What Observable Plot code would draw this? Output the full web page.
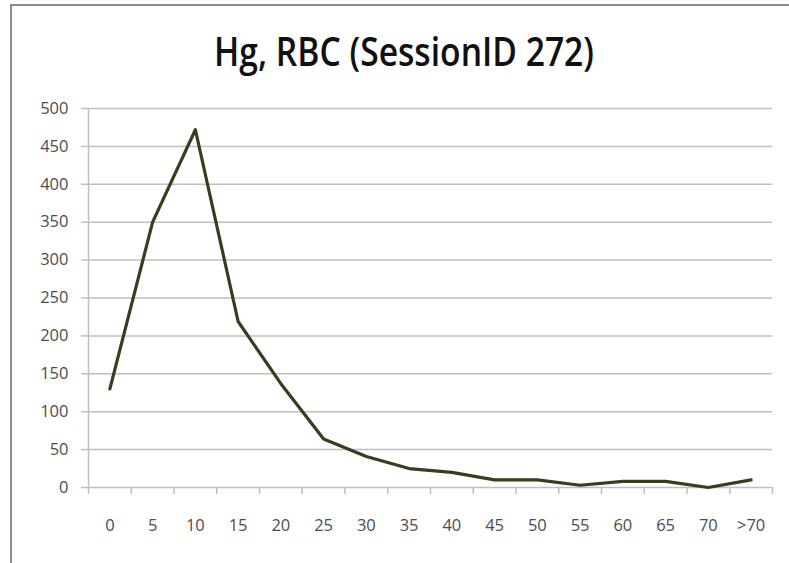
<!DOCTYPE html>
<html>
<head>
<meta charset="utf-8">
<script src="https://cdn.jsdelivr.net/npm/d3@7"></script>
<script src="https://cdn.jsdelivr.net/npm/@observablehq/plot@0.6"></script>
<style>
  html, body { margin: 0; padding: 0; background: #fff; }
  #frame { position: absolute; left: 10px; top: 4px; width: 779px; height: 559px;
           border-top: 2px solid #8c8c8c; border-left: 2px solid #8c8c8c; box-sizing: border-box; }
  #titlewrap { position: absolute; left: 0; top: 31px; width: 808px; text-align: center; line-height: 1; }
  #title { display: inline-block; font-family: "Open Sans", sans-serif; font-size: 40px; font-weight: 600;
           color: #111; transform-origin: 50% 50%; white-space: nowrap; }
  #chart { position: absolute; left: 0; top: 90px; }
</style>
</head>
<body>
<div id="frame"></div>
<div id="titlewrap"><span id="title">Hg, RBC (SessionID 272)</span></div>
<div id="chart"></div>
<script>
const categories = ["0","5","10","15","20","25","30","35","40","45","50","55","60","65","70",">70"];
const values = [130, 350, 472, 219, 137, 64, 41, 25, 20, 10, 10, 3, 8, 8, 0, 10];
const yTicks = [0, 50, 100, 150, 200, 250, 300, 350, 400, 450, 500];

const data = categories.map((c, i) => ({i, c, v: values[i]}));
const centers = categories.map((c, i) => i);
const bounds = d3.range(categories.length + 1).map(k => k - 0.5);

const t = document.getElementById("title");
const w = t.getBoundingClientRect().width;
t.style.transform = `scaleX(${380 / w})`;

const fontFam = "'Open Sans', sans-serif";
const plot = Plot.plot({
  width: 789,
  height: 447,
  marginLeft: 88,
  marginRight: 17,
  marginTop: 18,
  marginBottom: 50,
  style: {fontFamily: fontFam, fontSize: "16.5px", color: "#595959", background: "transparent"},
  x: {type: "linear", domain: [-0.5, categories.length - 0.5]},
  y: {domain: [0, 500]},
  marks: [
    Plot.gridY(yTicks, {stroke: "#bfbfbf", strokeOpacity: 1, strokeWidth: 1.5}),
    Plot.ruleX([-0.5], {stroke: "#bfbfbf", strokeWidth: 1.5}),
    Plot.axisY(yTicks, {tickSize: 7, tickPadding: 13, stroke: "#bfbfbf", strokeWidth: 1.5, fill: "#4d4d4d", label: null, tickFormat: d => d}),
    Plot.axisX(bounds, {tickSize: 7, tickFormat: () => "", stroke: "#bfbfbf", strokeWidth: 1.5, label: null}),
    Plot.axisX(centers, {tickSize: 0, tickPadding: 32, tickFormat: i => categories[i], fill: "#4d4d4d", label: null}),
    Plot.line(data, {x: "i", y: "v", stroke: "#3d3a1e", strokeWidth: 3.2, strokeLinejoin: "round"})
  ]
});
document.getElementById("chart").appendChild(plot);
</script>
</body>
</html>
